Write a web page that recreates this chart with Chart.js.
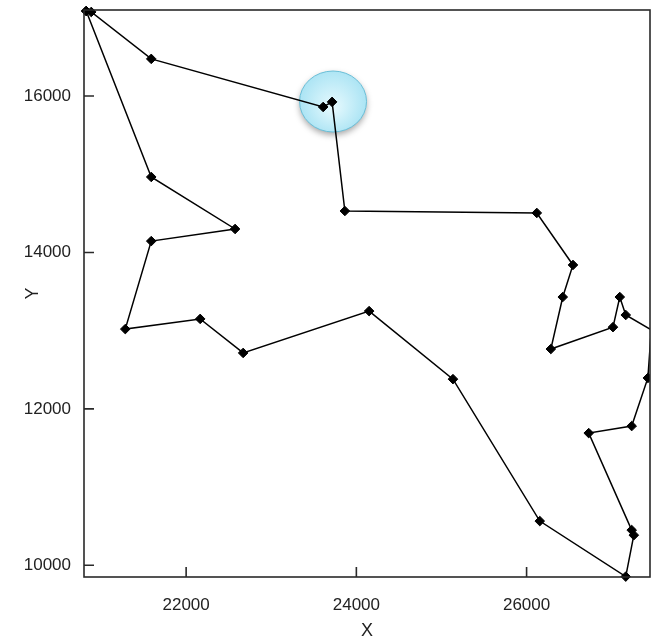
<!DOCTYPE html>
<html><head><meta charset="utf-8">
<script src="https://cdn.jsdelivr.net/npm/chart.js@4.4.0/dist/chart.umd.min.js"></script>
<style>html,body{margin:0;padding:0;background:#fff;overflow:hidden}</style>
</head><body>
<canvas id="c" width="652" height="638"></canvas>
<script>
// Tour coordinates (closed path: last point repeats the first)
const xValues = [20826, 20885, 21590, 23610, 23715, 23865, 26120, 26545, 26425, 26285,
                 27015, 27095, 27165, 27465, 27425, 27235, 26730, 27235, 27260, 27165,
                 26155, 25135, 24150, 22670, 22165, 21285, 21590, 22575, 21590, 20826];
const yValues = [17087, 17075, 16475, 15860, 15925, 14530, 14505, 13840, 13430, 12765,
                 13045, 13430, 13200, 13010, 12395, 11780, 11690, 10450, 10385, 9855,
                 10565, 12380, 13250, 12715, 13150, 13020, 14145, 14300, 14965, 17087];
const xTicks = [22000, 24000, 26000];
const yTicks = [10000, 12000, 14000, 16000];
const xRange = [20800, 27450];
const yRange = [9850, 17100];
const highlight = {x: 23726, y: 15930};

const framePlugin = {
  id: 'frame',
  beforeDatasetsDraw(chart) {
    const {ctx, scales: {x, y}} = chart;
    const cx = x.getPixelForValue(highlight.x), cy = y.getPixelForValue(highlight.y);
    ctx.save();
    ctx.shadowColor = 'rgba(0,0,0,0.35)';
    ctx.shadowBlur = 6;
    ctx.shadowOffsetY = 3;
    const g = ctx.createRadialGradient(cx, cy + 6, 3, cx, cy, 36);
    g.addColorStop(0, '#e2f8fd');
    g.addColorStop(1, '#a6e2f3');
    ctx.fillStyle = g;
    ctx.beginPath();
    ctx.ellipse(cx, cy, 33.5, 30.5, 0, 0, 2 * Math.PI);
    ctx.fill();
    ctx.shadowColor = 'transparent';
    ctx.strokeStyle = '#6bbfd8';
    ctx.lineWidth = 1;
    ctx.stroke();
    ctx.restore();
  },
  afterDatasetsDraw(chart) {
    const {ctx, chartArea: a, scales: {x, y}} = chart;
    ctx.save();
    ctx.strokeStyle = '#2a2a2a';
    ctx.lineWidth = 1.6;
    ctx.strokeRect(a.left, a.top, a.right - a.left, a.bottom - a.top);
    ctx.beginPath();
    xTicks.forEach(v => { const px = x.getPixelForValue(v); ctx.moveTo(px, a.bottom); ctx.lineTo(px, a.bottom - 10); });
    yTicks.forEach(v => { const py = y.getPixelForValue(v); ctx.moveTo(a.left, py); ctx.lineTo(a.left + 10, py); });
    ctx.stroke();
    ctx.restore();
  }
};

const tickFont = {family: "'Liberation Sans', Arial, sans-serif", size: 17};
const noPad = s => { s.paddingTop = 0; s.paddingBottom = 0; s.paddingLeft = 0; s.paddingRight = 0; };

new Chart(document.getElementById('c'), {
  type: 'scatter',
  data: {
    datasets: [{
      data: xValues.map((v, i) => ({x: v, y: yValues[i]})),
      showLine: true,
      borderColor: '#000',
      borderWidth: 1.5,
      tension: 0,
      pointStyle: 'rectRot',
      pointRadius: c => (c.raw && c.raw.x > xRange[1] ? 0 : 4.8),
      pointBackgroundColor: '#000',
      pointBorderColor: '#000',
      pointBorderWidth: 1,
      clip: {left: 10, top: 10, right: 0, bottom: 10}
    }]
  },
  options: {
    responsive: false,
    animation: false,
    devicePixelRatio: 1,
    layout: {autoPadding: false, padding: {top: 10, right: 2, left: 0, bottom: 0}},
    plugins: {legend: {display: false}, tooltip: {enabled: false}},
    scales: {
      x: {
        type: 'linear', min: xRange[0], max: xRange[1],
        afterBuildTicks: s => { s.ticks = xTicks.map(v => ({value: v})); },
        afterFit: s => { s.height = 61; noPad(s); },
        grid: {display: false, drawTicks: false},
        border: {display: false},
        ticks: {font: tickFont, color: '#222', padding: 18, maxRotation: 0, autoSkip: false,
                callback: v => String(v)},
        title: {display: true, text: 'X', color: '#222', padding: 0,
                font: {family: "'Liberation Sans', Arial, sans-serif", size: 18, lineHeight: 0.8}}
      },
      y: {
        type: 'linear', min: yRange[0], max: yRange[1],
        afterBuildTicks: s => { s.ticks = yTicks.map(v => ({value: v})); },
        afterFit: s => { s.width = 84; noPad(s); },
        grid: {display: false, drawTicks: false},
        border: {display: false},
        ticks: {font: tickFont, color: '#222', padding: 13, autoSkip: false,
                callback: v => String(v)},
        title: {display: true, text: 'Y', color: '#222', padding: {top: 22, bottom: 0},
                font: {family: "'Liberation Sans', Arial, sans-serif", size: 18}}
      }
    }
  },
  plugins: [framePlugin]
});
</script>
</body></html>
